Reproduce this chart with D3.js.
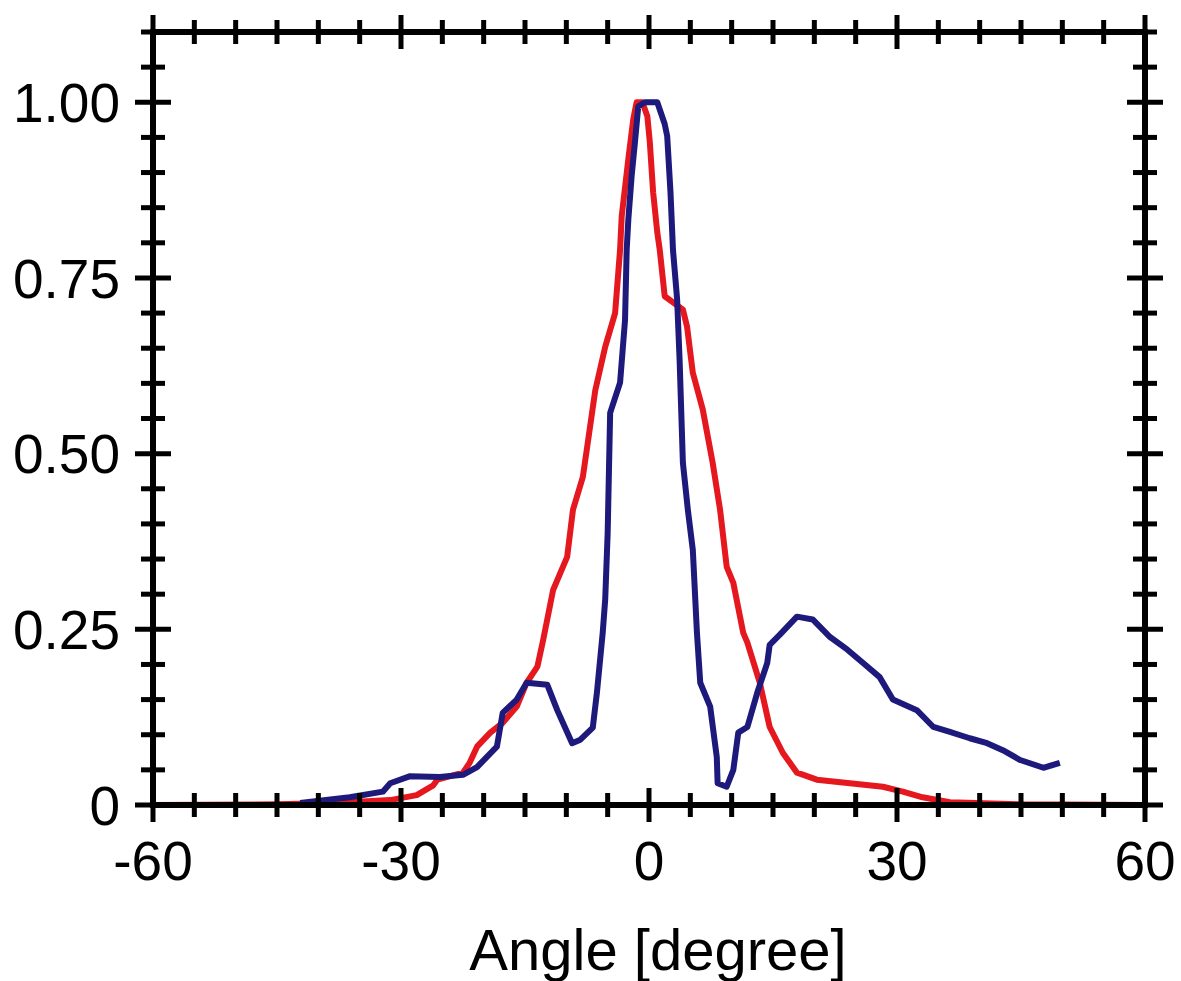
<!DOCTYPE html>
<html>
<head>
<meta charset="utf-8">
<script src="https://cdn.jsdelivr.net/npm/d3@7"></script>
<style>
  body { margin: 0; background: #fff; }
  svg { display: block; }
  text { font-family: "Liberation Sans", Arial, Helvetica, sans-serif; fill: #000; }
</style>
</head>
<body>
<div id="chart"></div>
<script>
// angle in degrees, normalised intensity
var blueAngle = [-42.2, -36.2, -32.2, -31.3, -28.9, -25.3, -22.5, -20.8, -18.4, -17.7, -16.0, -14.8, -12.3, -11.1, -9.3, -8.3, -6.8, -6.3, -5.6, -5.3, -5.0, -4.7, -3.5, -2.9, -2.7, -2.5, -2.1, -1.7, -1.3, -0.5, 1.0, 1.9, 2.2, 2.6, 2.9, 3.4, 3.7, 4.1, 4.7, 5.3, 5.8, 6.2, 7.4, 8.2, 8.3, 9.4, 10.2, 10.8, 11.9, 13.1, 14.3, 14.6, 15.8, 17.9, 19.8, 21.9, 24.0, 25.9, 27.9, 29.5, 32.4, 34.4, 36.4, 38.8, 40.9, 42.8, 44.9, 47.7, 49.7];
var blueValue = [0.003, 0.011, 0.019, 0.031, 0.041, 0.040, 0.043, 0.054, 0.083, 0.131, 0.150, 0.174, 0.171, 0.135, 0.088, 0.093, 0.110, 0.160, 0.245, 0.292, 0.387, 0.558, 0.601, 0.690, 0.790, 0.833, 0.895, 0.943, 0.994, 1.0, 1.0, 0.969, 0.952, 0.872, 0.790, 0.720, 0.634, 0.487, 0.420, 0.363, 0.245, 0.174, 0.140, 0.068, 0.031, 0.026, 0.050, 0.103, 0.111, 0.160, 0.202, 0.228, 0.242, 0.268, 0.264, 0.239, 0.221, 0.202, 0.182, 0.150, 0.135, 0.111, 0.104, 0.095, 0.088, 0.078, 0.064, 0.053, 0.060];

var redAngle = [-60, -45, -38, -31.3, -28.1, -26.1, -25.6, -22.5, -21.7, -20.8, -19.2, -17.7, -16.0, -14.8, -13.5, -12.8, -11.6, -9.9, -9.2, -8.0, -7.4, -6.5, -5.3, -4.1, -3.5, -3.3, -2.5, -1.9, -1.5, -0.8, -0.2, 0.1, 0.5, 1.0, 1.3, 1.9, 4.1, 4.6, 5.3, 6.5, 7.7, 8.6, 9.4, 10.2, 11.4, 11.9, 13.4, 14.6, 16.2, 17.9, 20.3, 24.3, 28.3, 30.7, 33.1, 36.4, 45, 60];
var redValue = [0, 0.001, 0.003, 0.007, 0.014, 0.028, 0.036, 0.046, 0.060, 0.083, 0.103, 0.117, 0.140, 0.174, 0.197, 0.235, 0.306, 0.353, 0.420, 0.467, 0.516, 0.590, 0.652, 0.700, 0.790, 0.838, 0.919, 0.976, 1.0, 1.0, 0.980, 0.943, 0.872, 0.815, 0.790, 0.724, 0.705, 0.681, 0.615, 0.563, 0.487, 0.420, 0.339, 0.316, 0.245, 0.231, 0.174, 0.111, 0.074, 0.046, 0.036, 0.031, 0.026, 0.019, 0.011, 0.004, 0.001, 0];

var xTickValues = [-60, -30, 0, 30, 60];
var yTickValues = [0, 0.25, 0.5, 0.75, 1.0];
var yTickLabels = ["0", "0.25", "0.50", "0.75", "1.00"];
var xTitle = "Angle [degree]";

var W = 1181, H = 981;
var margin = { top: 32, right: 36, bottom: 176, left: 153 };
var width = W - margin.left - margin.right;
var height = H - margin.top - margin.bottom;

var svg = d3.select("#chart").append("svg")
    .attr("width", W)
    .attr("height", H);
svg.append("rect").attr("width", W).attr("height", H).attr("fill", "#fff");

var g = svg.append("g")
    .attr("transform", "translate(" + margin.left + "," + margin.top + ")");

var x = d3.scaleLinear().domain([-60, 60]).range([0, width]);
var y = d3.scaleLinear().domain([0, 1.1]).range([height, 0]);

// curves
var line = d3.line()
    .x(function (d) { return x(d[0]); })
    .y(function (d) { return y(d[1]); });

var red = d3.zip(redAngle, redValue);
var blue = d3.zip(blueAngle, blueValue);

g.append("path").datum(red)
    .attr("d", line)
    .attr("fill", "none")
    .attr("stroke", "#e5181f")
    .attr("stroke-width", 6)
    .attr("stroke-linejoin", "round");

g.append("path").datum(blue)
    .attr("d", line)
    .attr("fill", "none")
    .attr("stroke", "#1d1a7c")
    .attr("stroke-width", 6)
    .attr("stroke-linejoin", "round");

// frame
var frame = g.append("g").attr("class", "frame")
    .attr("stroke", "#000").attr("stroke-width", 6).attr("stroke-linecap", "square");
frame.append("line").attr("x1", 0).attr("x2", width).attr("y1", height).attr("y2", height);
frame.append("line").attr("x1", 0).attr("x2", width).attr("y1", 0).attr("y2", 0);
frame.append("line").attr("x1", 0).attr("x2", 0).attr("y1", 0).attr("y2", height);
frame.append("line").attr("x1", width).attr("x2", width).attr("y1", 0).attr("y2", height);

// ticks crossing the frame
var xMinor = d3.range(-60, 60.01, 5);
var yMinor = d3.range(0, 1.1001, 0.05);
var ticks = g.append("g").attr("class", "ticks").attr("stroke", "#000").attr("stroke-width", 5);

[0, height].forEach(function (yy) {
    ticks.selectAll(null).data(xMinor).enter().append("line")
        .attr("x1", function (d) { return x(d); })
        .attr("x2", function (d) { return x(d); })
        .attr("y1", function (d) { return yy - (d % 30 === 0 ? 17 : 12); })
        .attr("y2", function (d) { return yy + (d % 30 === 0 ? 17 : 12); });
});
[0, width].forEach(function (xx) {
    ticks.selectAll(null).data(yMinor).enter().append("line")
        .attr("y1", function (d) { return y(d); })
        .attr("y2", function (d) { return y(d); })
        .attr("x1", function (d) { return xx - (Math.round(d * 100) % 25 === 0 ? 18 : 12); })
        .attr("x2", function (d) { return xx + (Math.round(d * 100) % 25 === 0 ? 18 : 12); });
});

// tick labels
g.selectAll(".xlab").data(xTickValues).enter().append("text")
    .attr("class", "xlab")
    .attr("x", function (d) { return x(d); })
    .attr("y", height + 75)
    .attr("text-anchor", "middle")
    .attr("font-size", 55)
    .text(function (d) { return d < 0 ? "-" + Math.abs(d) : d; });

g.selectAll(".ylab").data(yTickValues).enter().append("text")
    .attr("class", "ylab")
    .attr("x", -33)
    .attr("y", function (d) { return y(d); })
    .attr("dy", "0.36em")
    .attr("text-anchor", "end")
    .attr("font-size", 55)
    .text(function (d, i) { return yTickLabels[i]; });

// axis title
svg.append("text")
    .attr("x", 658)
    .attr("y", 970)
    .attr("text-anchor", "middle")
    .attr("font-size", 58)
    .text(xTitle);
</script>
</body>
</html>
